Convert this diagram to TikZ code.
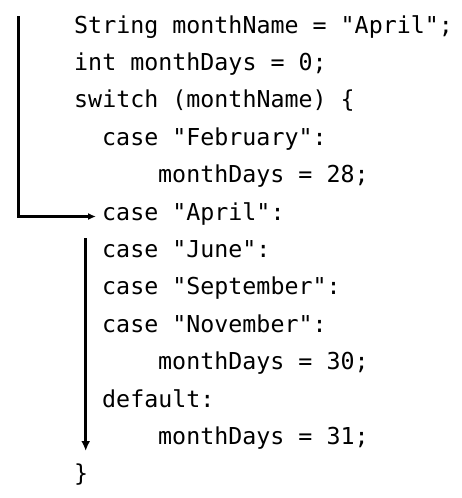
\documentclass[tikz,border=0pt]{standalone}
\usepackage{fontspec}
\newfontfamily\codefont{DejaVu Sans Mono}
\usetikzlibrary{arrows.meta}
\begin{document}
\begin{tikzpicture}[x=1pt,y=-1pt,
  code/.style={anchor=base west,inner sep=0pt,font=\codefont\fontsize{23.3}{28}\selectfont},
  flow/.style={line width=3pt,draw=black}]
\useasboundingbox (0,0) rectangle (462,498);
\node[code] (l1)  at (74,33)    {String monthName = "April";};
\node[code] (l2)  at (74,70.4)  {int monthDays = 0;};
\node[code] (l3)  at (74,107.8) {switch (monthName) \{};
\node[code] (l4)  at (102,145.2){case "February":};
\node[code] (l5)  at (158,182.6){monthDays = 28;};
\node[code] (l6)  at (102,220)  {case "April":};
\node[code] (l7)  at (102,257.4){case "June":};
\node[code] (l8)  at (102,294.8){case "September":};
\node[code] (l9)  at (102,332.2){case "November":};
\node[code] (l10) at (158,369.6){monthDays = 30;};
\node[code] (l11) at (102,407)  {default:};
\node[code] (l12) at (158,444.4){monthDays = 31;};
\node[code] (l13) at (74,481.8) {\}};
\coordinate (jtop) at (18.5,16);
\coordinate (jcorner) at (18.5,216.5);
\coordinate (jend) at (96,216.5);
\coordinate (ftop) at (85.7,238);
\coordinate (fend) at (85.7,451);
\draw[flow,-{Latex[length=8pt,width=7pt]}] (jtop) -- (jcorner) -- (jend);
\draw[flow,-{Latex[length=10pt,width=9pt]}] (ftop) -- (fend);
\end{tikzpicture}
\end{document}
